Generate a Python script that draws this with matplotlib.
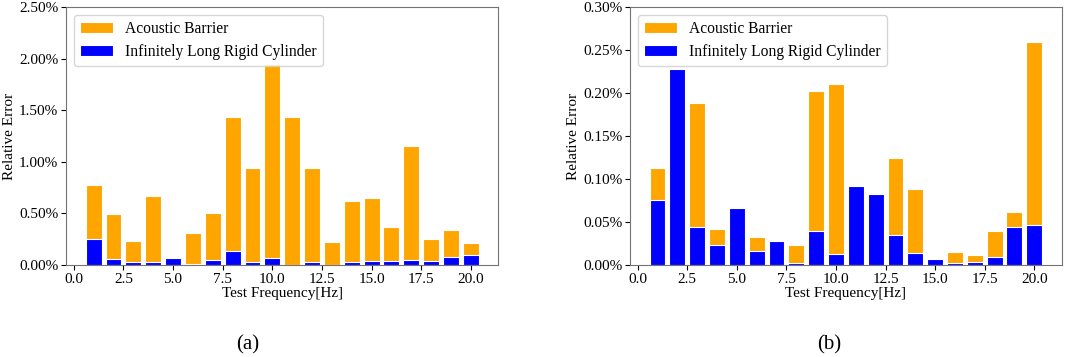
import matplotlib
matplotlib.use('Agg')
from matplotlib import pyplot as plt
from matplotlib.ticker import PercentFormatter
import numpy as np

plt.rcParams['font.family'] = ['Liberation Serif', 'DejaVu Serif']

freq = np.arange(1, 21)

# relative error in percent, panel (a)
barrier_a = [0.771, 0.497, 0.232, 0.668, 0.068, 0.306, 0.500, 1.439, 0.935, 1.952,
             1.439, 0.935, 0.219, 0.619, 0.652, 0.365, 1.158, 0.248, 0.335, 0.213]
cylinder_a = [0.248, 0.058, 0.032, 0.032, 0.065, 0.013, 0.048, 0.139, 0.026, 0.068,
              0.000, 0.026, 0.000, 0.032, 0.039, 0.039, 0.048, 0.039, 0.078, 0.094]

# relative error in percent, panel (b)
barrier_b = [0.1124, 0.020, 0.188, 0.0415, 0.030, 0.032, 0.015, 0.0236, 0.202, 0.211,
             0.050, 0.040, 0.124, 0.088, 0.004, 0.0147, 0.011, 0.040, 0.062, 0.260]
cylinder_b = [0.0752, 0.228, 0.044, 0.023, 0.066, 0.016, 0.0275, 0.002, 0.039, 0.0128,
              0.092, 0.083, 0.0345, 0.0136, 0.0074, 0.002, 0.0035, 0.0093, 0.044, 0.046]

ylims = [2.5, 0.30]
captions = ['(a)', '(b)']

fig = plt.figure(figsize=(10.65, 3.57), dpi=100)
ax1 = fig.add_axes([0.062, 0.258, 0.406, 0.722])
ax2 = fig.add_axes([0.5915, 0.258, 0.4055, 0.722])

for ax, orange, blue, ylim in [(ax1, barrier_a, cylinder_a, ylims[0]),
                               (ax2, barrier_b, cylinder_b, ylims[1])]:
    ax.bar(freq, orange, width=0.8, color='orange', edgecolor='white',
           linewidth=0.8, label='Acoustic Barrier')
    ax.bar(freq, blue, width=0.8, color='blue', edgecolor='white',
           linewidth=0.8, label='Infinitely Long Rigid Cylinder')
    ax.set_ylim(0, ylim)
    ax.yaxis.set_major_formatter(PercentFormatter(100, decimals=2))
    ax.set_xticks(np.arange(0, 20.1, 2.5))
    ax.set_xticklabels(['%.1f' % t for t in np.arange(0, 20.1, 2.5)])
    ax.tick_params(labelsize=11, pad=2)
    ax.set_xlabel('Test Frequency[Hz]', fontsize=11, labelpad=1)
    ax.set_ylabel('Relative Error', fontsize=11, labelpad=2)
    for s in ax.spines.values():
        s.set_color('0.45')
    ax.legend(loc='upper left', fontsize=11.2, handlelength=2.1, handleheight=0.65,
              borderaxespad=0.5, labelspacing=0.45, handletextpad=0.8)

fig.text(0.233, 0.033, captions[0], fontsize=15, ha='center', va='center')
fig.text(0.779, 0.033, captions[1], fontsize=15, ha='center', va='center')

fig.savefig('out.png', dpi=100)
